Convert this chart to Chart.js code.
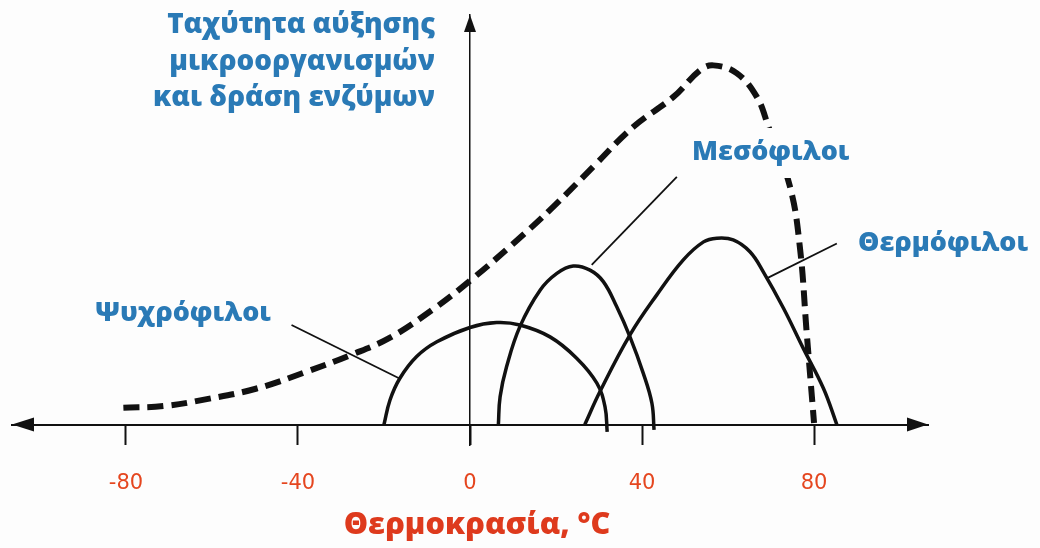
<!DOCTYPE html>
<html>
<head>
<meta charset="utf-8">
<script src="https://cdn.jsdelivr.net/npm/chart.js@4.4.1/dist/chart.umd.min.js"></script>
<style>
  html, body { margin: 0; padding: 0; background: #fdfdfd; }
  canvas { display: block; }
</style>
</head>
<body>
<canvas id="c" width="1040" height="548" style="width:1040px;height:548px"></canvas>
<script>
// ---------- data ----------
const X_TICKS = [-80, -40, 0, 40, 80];
const X_TICK_LABELS = ['-80', '-40', '0', '40', '80'];

// dashed curve: growth rate / enzyme activity envelope
const ENZYME_X = [-80.6, -71.3, -61.2, -49.6, -38.0, -27.9, -18.6, -8.5, 0, 10.1, 19.4, 28.7, 38.0, 47.3, 53.5, 56.6, 62.0, 66.7, 69.4, 74.4, 76.7, 78.3, 80.0];
const ENZYME_Y = [4.1, 4.5, 6.2, 8.8, 12.9, 16.9, 21.2, 28.2, 35.1, 44.2, 53.2, 63.0, 72.7, 80.0, 86.5, 87.7, 85.8, 80.0, 72.7, 58.1, 43.4, 22.3, 0.4];

const PSYCHRO_X = [-20.0, -18.6, -16.3, -12.4, -7.7, 0, 6.2, 11.6, 18.6, 24.8, 29.5, 31.4, 31.9];
const PSYCHRO_Y = [0, 6.0, 11.3, 16.6, 20.2, 23.7, 24.9, 24.3, 21.4, 16.2, 10.1, 4.3, -1.8];

const MESO_X = [6.6, 7.0, 8.5, 11.6, 16.3, 20.2, 24.0, 27.9, 31.0, 34.1, 37.2, 40.3, 42.3, 42.8];
const MESO_Y = [0, 6.8, 14.1, 23.9, 32.8, 36.9, 38.7, 37.7, 34.9, 28.8, 21.4, 12.5, 5.2, -1.3];

const THERMO_X = [26.7, 30.2, 37.2, 43.4, 49.6, 54.3, 57.4, 61.2, 65.1, 68.2, 72.9, 77.5, 82.2, 85.3];
const THERMO_Y = [0, 8.0, 21.9, 31.6, 40.2, 44.6, 45.5, 45.1, 42.2, 37.3, 28.4, 18.6, 8.8, 0];

const SERIES_NAMES = ['Ψυχρόφιλοι', 'Μεσόφιλοι', 'Θερμόφιλοι'];
const Y_TITLE = ['Ταχύτητα αύξησης', 'μικροοργανισμών', 'και δράση ενζύμων'];
const X_TITLE = 'Θερμοκρασία, °C';

// ---------- styling / layout ----------
const BG = '#fdfdfd';
const INK = '#111111';
const BLUE = '#2a7ab6';
const RED_TICK = '#e5461f';
const RED_TITLE = '#de3a1d';
const LABEL_FAMILY = '"Open Sans", "Noto Sans", sans-serif';
const LABEL_WEIGHT = '800';
const TICK_FAMILY = '"DejaVu Sans", "Noto Sans", sans-serif';

// leader lines in data units: [x1, y1, x2, y2]
const LEADERS = [
  [-41.5, 24.3, -16.5, 11.3],
  [28.3, 39.0, 48.1, 60.5],
  [69.0, 35.7, 85.3, 44.2]
];
// label boxes in pixels: left, centre-y
const LABEL_POS = [[95, 313], [692, 152], [858, 243]];

const zip = (xs, ys) => xs.map((x, i) => ({ x: x, y: ys[i] }));

function fitSize(ctx, text, weight, family, target) {
  ctx.font = weight + ' 100px ' + family;
  return 100 * target / ctx.measureText(text).width;
}

const decorPlugin = {
  id: 'decor',
  beforeDraw(chart) {
    const ctx = chart.ctx;
    ctx.save();
    ctx.fillStyle = BG;
    ctx.fillRect(0, 0, chart.width, chart.height);
    ctx.restore();
  },
  afterDatasetsDraw(chart) {
    const ctx = chart.ctx;
    const xs = chart.scales.x, ys = chart.scales.y;
    ctx.save();
    // leader lines
    ctx.strokeStyle = INK;
    ctx.lineWidth = 1.8;
    LEADERS.forEach(l => {
      ctx.beginPath();
      ctx.moveTo(xs.getPixelForValue(l[0]), ys.getPixelForValue(l[1]));
      ctx.lineTo(xs.getPixelForValue(l[2]), ys.getPixelForValue(l[3]));
      ctx.stroke();
    });
    // series labels
    const size = fitSize(ctx, SERIES_NAMES[2], LABEL_WEIGHT, LABEL_FAMILY, 170);
    ctx.font = LABEL_WEIGHT + ' ' + size.toFixed(1) + 'px ' + LABEL_FAMILY;
    ctx.textBaseline = 'middle';
    ctx.textAlign = 'left';
    SERIES_NAMES.forEach((name, i) => {
      const [lx, cy] = LABEL_POS[i];
      const w = ctx.measureText(name).width;
      ctx.fillStyle = BG;
      ctx.fillRect(lx - 4, cy - 24, w + 8, 50);
      ctx.fillStyle = BLUE;
      ctx.fillText(name, lx, cy);
    });
    ctx.restore();
  },
  afterDraw(chart) {
    const ctx = chart.ctx;
    const a = chart.chartArea;
    const xs = chart.scales.x, ys = chart.scales.y;
    const y0 = ys.getPixelForValue(0);
    const x0 = xs.getPixelForValue(0);
    ctx.save();
    ctx.fillStyle = INK;
    // left arrow
    ctx.beginPath();
    ctx.moveTo(a.left, y0);
    ctx.lineTo(a.left + 22, y0 - 7);
    ctx.lineTo(a.left + 22, y0 + 7);
    ctx.closePath();
    ctx.fill();
    // right arrow
    ctx.beginPath();
    ctx.moveTo(a.right, y0);
    ctx.lineTo(a.right - 21, y0 - 7);
    ctx.lineTo(a.right - 21, y0 + 7);
    ctx.closePath();
    ctx.fill();
    // top arrow
    ctx.beginPath();
    ctx.moveTo(x0, a.top);
    ctx.lineTo(x0 - 6, a.top + 17);
    ctx.lineTo(x0 + 6, a.top + 17);
    ctx.closePath();
    ctx.fill();

    // y title (three lines, right aligned)
    const ts = fitSize(ctx, Y_TITLE[0], LABEL_WEIGHT, LABEL_FAMILY, 268);
    ctx.font = LABEL_WEIGHT + ' ' + ts.toFixed(1) + 'px ' + LABEL_FAMILY;
    ctx.fillStyle = BLUE;
    ctx.textAlign = 'right';
    ctx.textBaseline = 'middle';
    const cys = [25, 62, 98];
    Y_TITLE.forEach((t, i) => ctx.fillText(t, 435, cys[i]));

    // x title
    const xsz = fitSize(ctx, X_TITLE, LABEL_WEIGHT, LABEL_FAMILY, 267);
    ctx.font = LABEL_WEIGHT + ' ' + xsz.toFixed(1) + 'px ' + LABEL_FAMILY;
    ctx.fillStyle = RED_TITLE;
    ctx.textAlign = 'center';
    ctx.fillText(X_TITLE, 477, 525);
    ctx.restore();
  }
};

const common = { showLine: true, pointRadius: 0, pointHoverRadius: 0, fill: false, tension: 0.4, borderColor: INK, clip: false };

new Chart(document.getElementById('c'), {
  type: 'scatter',
  data: {
    datasets: [
      Object.assign({ label: 'Ενζυμική δράση', data: zip(ENZYME_X, ENZYME_Y), borderWidth: 6, borderDash: [16, 8], borderCapStyle: 'butt' }, common),
      Object.assign({ label: SERIES_NAMES[0], data: zip(PSYCHRO_X, PSYCHRO_Y), borderWidth: 3.5 }, common),
      Object.assign({ label: SERIES_NAMES[1], data: zip(MESO_X, MESO_Y), borderWidth: 3.5 }, common),
      Object.assign({ label: SERIES_NAMES[2], data: zip(THERMO_X, THERMO_Y), borderWidth: 3.5 }, common)
    ]
  },
  options: {
    responsive: false,
    animation: false,
    devicePixelRatio: 1,
    layout: { padding: { left: 12, right: 112, top: 15, bottom: 103 } },
    plugins: { legend: { display: false }, tooltip: { enabled: false } },
    scales: {
      x: {
        type: 'linear', min: -106.5, max: 106.5,
        position: { y: 0 },
        afterFit(s) { s.height = 0; },
        afterBuildTicks(s) { s.ticks = X_TICKS.map(v => ({ value: v })); },
        grid: { display: true, drawOnChartArea: false, drawTicks: true, tickLength: 19, tickWidth: 2, tickColor: INK },
        border: { display: true, color: INK, width: 2 },
        ticks: {
          color: RED_TICK, font: { family: TICK_FAMILY, size: 21 },
          padding: 27, maxRotation: 0, autoSkip: false,
          callback: (v) => X_TICK_LABELS[X_TICKS.indexOf(v)]
        }
      },
      y: {
        type: 'linear', min: -5, max: 100,
        position: { x: 0 },
        afterFit(s) { s.width = 0; },
        grid: { display: false },
        border: { display: true, color: INK, width: 1.5 },
        ticks: { display: false }
      }
    }
  },
  plugins: [decorPlugin]
});
</script>
</body>
</html>
